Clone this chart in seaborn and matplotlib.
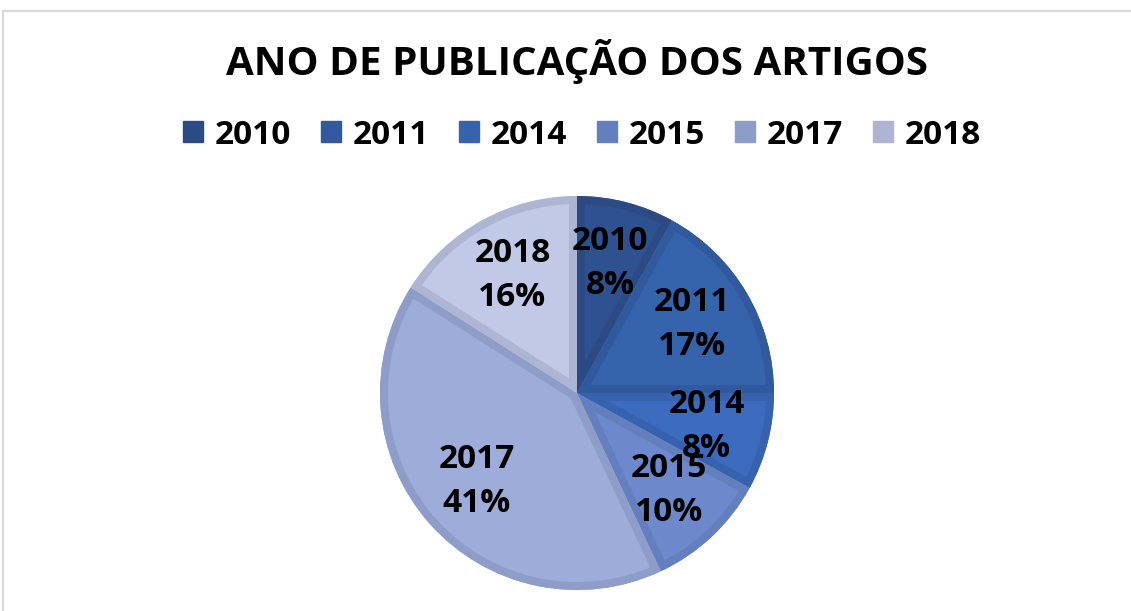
import matplotlib
matplotlib.use("Agg")
import matplotlib.pyplot as plt
import matplotlib.patches as mpatches
import seaborn as sns

# data (percent of articles per year)
years = ["2010", "2011", "2014", "2015", "2017", "2018"]
shares = [8, 17, 8, 10, 41, 16]

fill_colors = ["#2E5190", "#3563AC", "#3D6BBE", "#6D88CB", "#9DACD9", "#C2C9E6"]
edge_colors = ["#2C4B85", "#315A9E", "#3762AE", "#647FBE", "#8E9CC8", "#ADB5D2"]

sns.set_theme(style="white")
plt.rcParams["font.family"] = ["Open Sans", "DejaVu Sans"]

W, H = 1131, 611
fig = plt.figure(figsize=(W / 100, H / 100), dpi=100)
fig.patch.set_facecolor("white")

# chart area frame
fig.patches.append(mpatches.Rectangle((3 / W, -0.1), 1.2, 1 - 11 / H + 0.1,
                                      transform=fig.transFigure, fill=False,
                                      edgecolor="#D9D9D9", linewidth=1.5))

# pie axes: center (577, 393) px, radius 197 px
cx, cy, R = 577, 393, 197
half = 215
ax = fig.add_axes([(cx - half) / W, (H - cy - half) / H, 2 * half / W, 2 * half / H])

labels = [f"{y}\n{s}%" for y, s in zip(years, shares)]
wedges, texts = ax.pie(shares, colors=fill_colors, startangle=90, counterclock=False,
                       radius=1, labels=labels, labeldistance=0.68,
                       wedgeprops=dict(linewidth=0),
                       textprops=dict(fontsize=24, fontweight="bold", color="black",
                                      ha="center", va="center", linespacing=1.45))
# Excel-like inner border: an outline copy of each wedge, clipped to the wedge
for w, ec in zip(wedges, edge_colors):
    outline = mpatches.Wedge(w.center, w.r, w.theta1, w.theta2, facecolor="none",
                             edgecolor=ec, linewidth=11.5, joinstyle="miter", zorder=w.get_zorder())
    ax.add_patch(outline)
    outline.set_clip_path(w)

lim = half / R
ax.set_xlim(-lim, lim)
ax.set_ylim(-lim, lim)
ax.set_aspect("equal")
ax.axis("off")

fig.text(cx / W, 1 - 62 / H, "ANO DE PUBLICAÇÃO DOS ARTIGOS", ha="center", va="center",
         fontsize=29, fontweight="bold", color="black")

handles = [mpatches.Patch(facecolor=c, edgecolor=c) for c in edge_colors]
leg = fig.legend(handles, years, loc="center", bbox_to_anchor=(582 / W, 1 - 135 / H), ncol=6,
                 frameon=False, prop=dict(size=24, weight="bold"),
                 handlelength=0.6, handleheight=0.6, handletextpad=0.35, columnspacing=0.9)
for t in leg.get_texts():
    t.set_color("black")

fig.savefig("out.png", dpi=100)
